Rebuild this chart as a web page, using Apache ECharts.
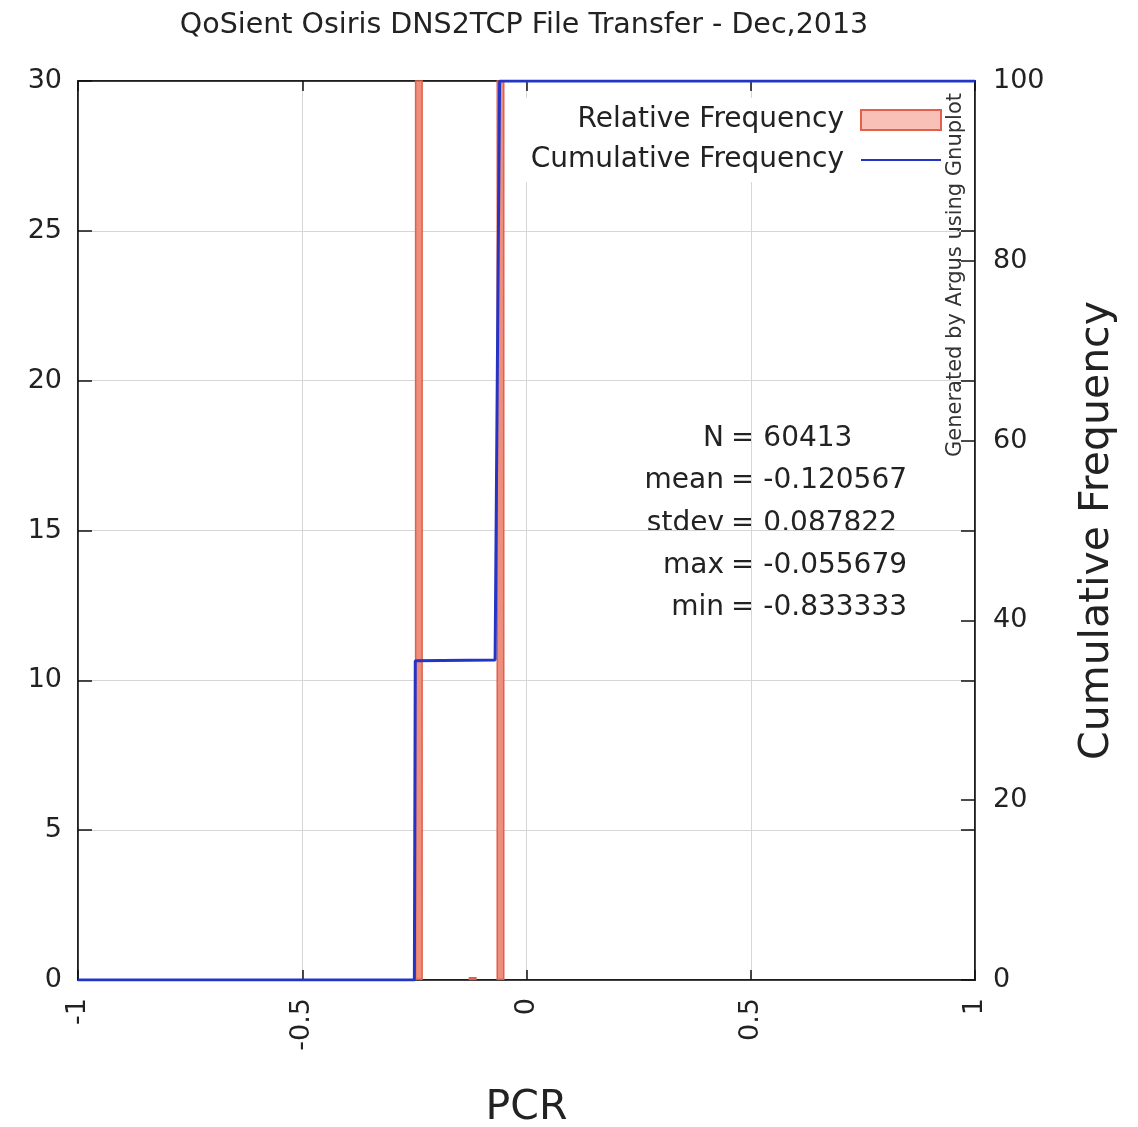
<!DOCTYPE html>
<html>
<head>
<meta charset="utf-8">
<script src="https://cdn.jsdelivr.net/npm/echarts@6/dist/echarts.min.js"></script>
<style>
  html, body { margin: 0; padding: 0; background: #fff; }
  #chart { width: 1138px; height: 1127px; }
</style>
</head>
<body>
<div id="chart"></div>
<script>
// Histogram of PCR values: bin centre and relative frequency (%)
const binCenters = [-0.24, -0.12, -0.058];
const relFreq = [35.5, 0.1, 64.4];

// Cumulative frequency (%) as a polyline over PCR
const cumX = [-1, -0.25, -0.248, -0.07, -0.06, 1];
const cumY = [0, 0, 35.5, 35.6, 100, 100];

// Axis ticks
const xTicks = { min: -1, max: 1, step: 0.5 };
const yLeftTicks = { min: 0, max: 30, step: 5 };
const yRightTicks = { min: 0, max: 100, step: 20 };

// Summary statistics shown in the plot
const statNames = ['N', 'mean', 'stdev', 'max', 'min'];
const statValues = ['60413', '-0.120567', '0.087822', '-0.055679', '-0.833333'];

const FONT = '"DejaVu Sans", Verdana, sans-serif';
const TXT = '#222';
const RED = '#e2604c';
const BLUE = '#2435c6';

const chart = echarts.init(document.getElementById('chart'));

const statGraphics = [];
statNames.forEach((name, i) => {
  const y = 439 + i * 42.2;
  statGraphics.push({
    type: 'text', x: 724, y: y,
    style: { text: name, font: '28px ' + FONT, fill: TXT, align: 'right', verticalAlign: 'middle' }
  });
  statGraphics.push({
    type: 'text', x: 731, y: y,
    style: { text: '= ' + statValues[i], font: '28px ' + FONT, fill: TXT, align: 'left', verticalAlign: 'middle' }
  });
});

const tickStyle = { show: true, inside: true, length: 14, lineStyle: { color: '#111', width: 1.5 } };
const borderLine = { show: true, onZero: false, lineStyle: { color: '#111', width: 1.5 } };

const option = {
  backgroundColor: '#fff',
  animation: false,
  title: {
    text: 'QoSient Osiris DNS2TCP File Transfer - Dec,2013',
    left: 519, top: 6, textAlign: 'center',
    textStyle: { fontFamily: FONT, fontSize: 28.5, fontWeight: 'normal', color: TXT }
  },
  grid: {
    left: 78, top: 81, width: 897, height: 899,
    outerBoundsMode: 'none',
    containLabel: false,
    show: true, borderColor: '#111', borderWidth: 1.5, backgroundColor: 'transparent'
  },
  legend: {
    orient: 'vertical', align: 'right',
    right: 194, top: 98,
    itemWidth: 80, itemHeight: 20, itemGap: 12,
    padding: [8, 2, 8, 12],
    backgroundColor: '#fff',
    textStyle: { fontFamily: FONT, fontSize: 28, lineHeight: 28, color: TXT, padding: [0, 12, 0, 0] },
    data: [
      { name: 'Relative Frequency', icon: 'rect', itemStyle: { color: '#f8c0b6', borderColor: RED, borderWidth: 2 } },
      { name: 'Cumulative Frequency', itemStyle: { opacity: 0 } }
    ]
  },
  xAxis: [
    {
      type: 'value', position: 'bottom',
      min: xTicks.min, max: xTicks.max, interval: xTicks.step,
      name: 'PCR', nameLocation: 'middle', nameGap: 108,
      nameTextStyle: { fontFamily: FONT, fontSize: 41, color: TXT },
      axisLine: borderLine,
      axisTick: Object.assign({}, tickStyle, { length: 10 }),
      axisLabel: { rotate: 90, margin: 18, fontFamily: FONT, fontSize: 27, color: TXT },
      splitLine: { show: true, lineStyle: { color: '#d6d6d6', width: 1 } }
    },
    {
      type: 'value', position: 'top',
      min: xTicks.min, max: xTicks.max, interval: xTicks.step,
      axisLine: borderLine,
      axisTick: Object.assign({}, tickStyle, { length: 10 }),
      axisLabel: { show: false },
      splitLine: { show: false }
    }
  ],
  yAxis: [
    {
      type: 'value', position: 'left',
      min: yLeftTicks.min, max: yLeftTicks.max, interval: yLeftTicks.step,
      axisLine: borderLine,
      axisTick: tickStyle,
      axisLabel: { margin: 16, fontFamily: FONT, fontSize: 27, color: TXT },
      splitLine: { show: true, lineStyle: { color: '#d6d6d6', width: 1 } }
    },
    {
      type: 'value', position: 'right',
      min: yRightTicks.min, max: yRightTicks.max, interval: yRightTicks.step,
      name: 'Cumulative Frequency', nameLocation: 'middle', nameRotate: 90, nameGap: 102,
      nameTextStyle: { fontFamily: FONT, fontSize: 41, color: TXT },
      axisLine: borderLine,
      axisTick: tickStyle,
      axisLabel: { margin: 18, fontFamily: FONT, fontSize: 27, color: TXT },
      splitLine: { show: false }
    },
    {
      // left-scale ticks repeated on the right border
      type: 'value', position: 'right',
      min: yLeftTicks.min, max: yLeftTicks.max, interval: yLeftTicks.step,
      axisLine: { show: false, onZero: false },
      axisTick: tickStyle,
      axisLabel: { show: false },
      splitLine: { show: false }
    }
  ],
  graphic: [
    {
      type: 'text', x: 956, y: 275, rotation: Math.PI / 2,
      style: {
        text: 'Generated by Argus using Gnuplot', font: '21px ' + FONT, fill: '#333',
        align: 'center', verticalAlign: 'middle'
      }
    }
  ].concat(statGraphics),
  series: [
    {
      name: 'Relative Frequency',
      type: 'bar',
      xAxisIndex: 0, yAxisIndex: 0,
      barWidth: 8,
      clip: true,
      itemStyle: { color: '#ee8e7d', borderColor: RED, borderWidth: 1.5 },
      data: binCenters.map((x, i) => [x, relFreq[i]]),
      z: 2
    },
    {
      name: 'Cumulative Frequency',
      type: 'line',
      xAxisIndex: 0, yAxisIndex: 1,
      symbol: 'none', showSymbol: false,
      lineStyle: { color: BLUE, width: 3 },
      itemStyle: { color: BLUE },
      data: cumX.map((x, i) => [x, cumY[i]]),
      z: 3
    }
  ]
};

chart.setOption(option);
</script>
</body>
</html>
